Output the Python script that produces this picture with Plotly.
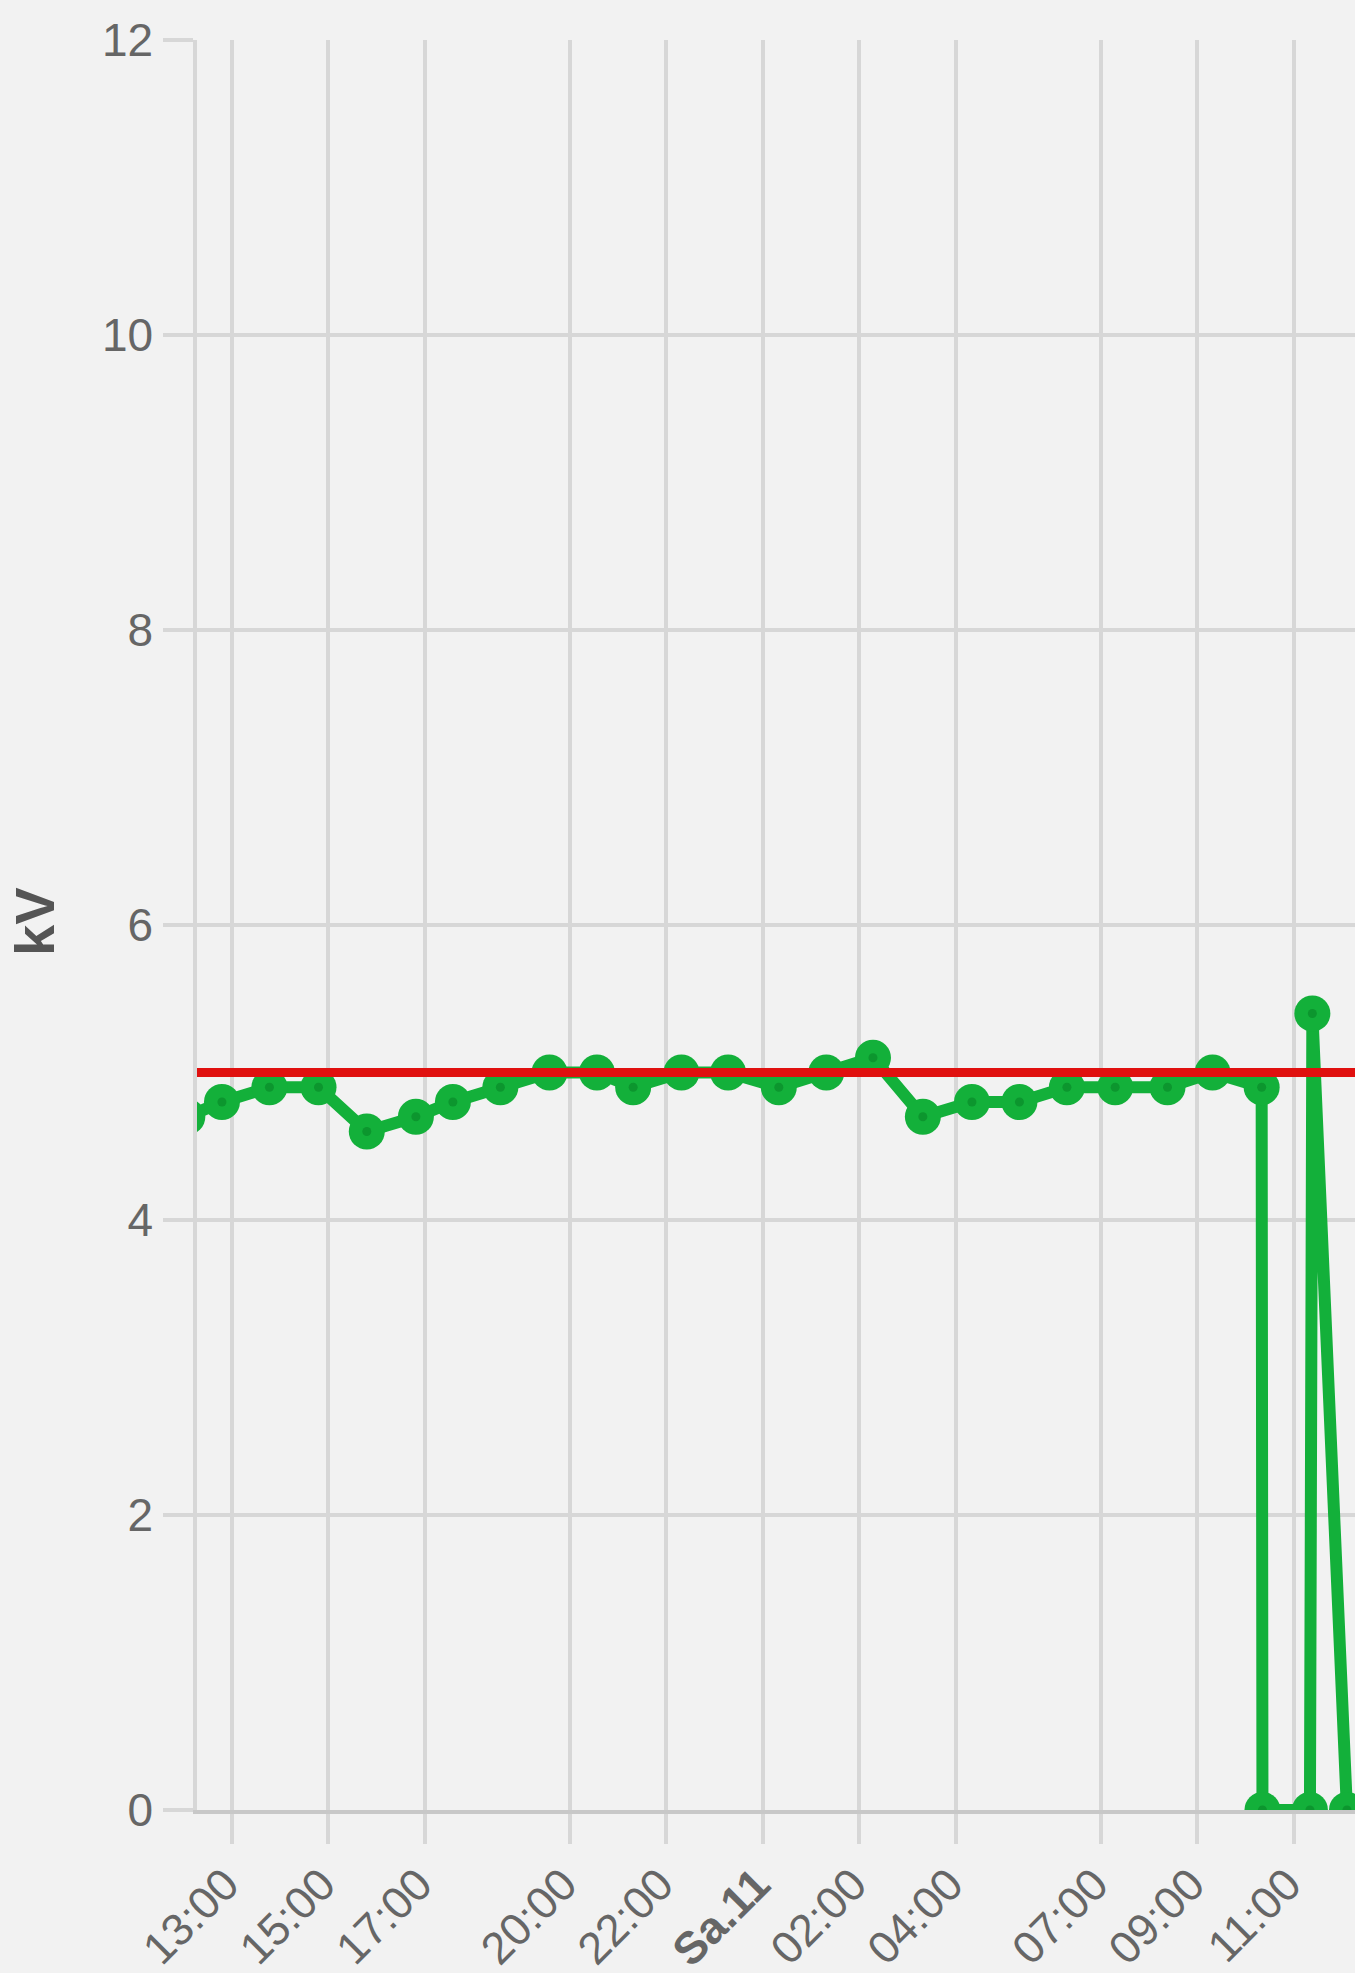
import plotly.graph_objects as go

# ---- data ----
times = [
    "2024-05-10 12:05", "2024-05-10 12:48", "2024-05-10 13:47", "2024-05-10 14:48",
    "2024-05-10 15:48", "2024-05-10 16:49", "2024-05-10 17:35", "2024-05-10 18:34",
    "2024-05-10 19:35", "2024-05-10 20:34", "2024-05-10 21:19", "2024-05-10 22:19",
    "2024-05-10 23:17", "2024-05-11 00:20", "2024-05-11 01:19", "2024-05-11 02:17",
    "2024-05-11 03:19", "2024-05-11 04:20", "2024-05-11 05:19", "2024-05-11 06:18",
    "2024-05-11 07:18", "2024-05-11 08:23", "2024-05-11 09:19", "2024-05-11 10:20",
    "2024-05-11 10:21", "2024-05-11 11:20", "2024-05-11 11:23", "2024-05-11 12:06",
]
kv_values = [
    4.7, 4.8, 4.9, 4.9, 4.6, 4.7, 4.8, 4.9, 5.0, 5.0, 4.9, 5.0, 5.0, 4.9,
    5.0, 5.1, 4.7, 4.8, 4.8, 4.9, 4.9, 4.9, 5.0, 4.9, 0.0, 0.0, 5.4, 0.0,
]
threshold_kv = 5.0

x_range = ["2024-05-10 12:17", "2024-05-11 12:16"]
y_range = [0, 12]

tick_vals = [
    "2024-05-10 13:00", "2024-05-10 15:00", "2024-05-10 17:00", "2024-05-10 20:00",
    "2024-05-10 22:00", "2024-05-11 00:00", "2024-05-11 02:00", "2024-05-11 04:00",
    "2024-05-11 07:00", "2024-05-11 09:00", "2024-05-11 11:00",
]
tick_text = ["13:00", "15:00", "17:00", "20:00", "22:00", "<b>Sa.11</b>",
             "02:00", "04:00", "07:00", "09:00", "11:00"]
y_tick_vals = [0, 2, 4, 6, 8, 10, 12]
y_title = "kV"

GREEN = "#13b03a"
GREEN_DARK = "#0c962e"
RED = "#e0100f"
GRID = "#d7d7d7"
BG = "#f2f2f2"
FONT = "Liberation Sans, Arial, sans-serif"

fig = go.Figure()
fig.add_trace(go.Scatter(
    x=times, y=kv_values, mode="lines+markers",
    line=dict(color=GREEN, width=12),
    marker=dict(color=GREEN, size=36),
    showlegend=False, hoverinfo="skip",
))
fig.add_trace(go.Scatter(
    x=times, y=kv_values, mode="markers",
    marker=dict(color=GREEN_DARK, size=9),
    showlegend=False, hoverinfo="skip",
))
fig.add_trace(go.Scatter(
    x=x_range, y=[threshold_kv, threshold_kv], mode="lines",
    line=dict(color=RED, width=9),
    showlegend=False, hoverinfo="skip",
))

fig.update_layout(
    width=1355, height=1973,
    margin=dict(l=197, r=0, t=40, b=163, autoexpand=False),
    paper_bgcolor=BG, plot_bgcolor=BG,
    font=dict(family=FONT, size=45, color="#666666"),
    xaxis=dict(
        type="date", range=x_range,
        tickmode="array", tickvals=tick_vals, ticktext=tick_text,
        tickangle=-45, tickfont=dict(size=45, color="#666666"),
        showgrid=True, gridcolor=GRID, gridwidth=3.5,
        ticks="outside", ticklen=30, tickwidth=3.5, tickcolor=GRID,
        showline=True, linecolor="#c8c8c8", linewidth=4,
        ticklabelstandoff=-4, ticklabelshift=-6,
        zeroline=False, fixedrange=True,
    ),
    yaxis=dict(
        range=y_range, tickmode="array", tickvals=y_tick_vals,
        tickfont=dict(size=46, color="#666666"),
        showgrid=True, gridcolor=GRID, gridwidth=3.5,
        ticks="outside", ticklen=30, tickwidth=3.5, tickcolor=GRID,
        showline=True, linecolor=GRID, linewidth=3.5,
        zeroline=True, zerolinecolor="#c8c8c8", zerolinewidth=4,
        ticklabelstandoff=1, fixedrange=True,
    ),
    annotations=[dict(
        text="<b>" + y_title + "</b>", xref="paper", yref="paper",
        x=(34 - 197) / 1158, y=(1810 - 922) / 1770, xanchor="center", yanchor="middle",
        textangle=-90, showarrow=False,
        font=dict(family=FONT, size=56, color="#555555"),
    )],
)

fig.write_html(
    "out.html",
    config={"displayModeBar": False},
    post_script="document.body.style.margin='0';document.body.style.background='#f2f2f2';",
)
